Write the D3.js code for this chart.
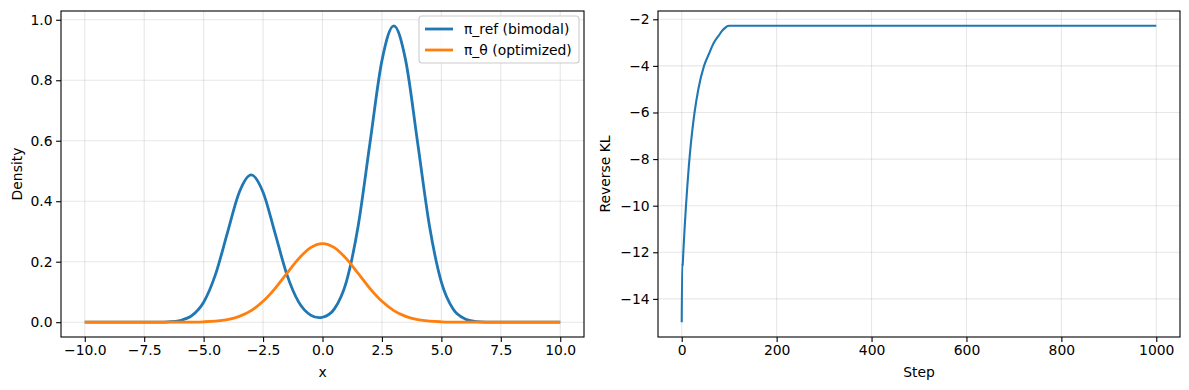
<!DOCTYPE html>
<html>
<head>
  <script src="https://d3js.org/d3.v7.min.js"></script>
  <style>
  html, body {
    margin: 0px;
    background: #fff;
  }
  svg text {
    font-family: "DejaVu Sans", sans-serif;
  }
  .tick text {
    font-size: 13.9px;
    fill: #000;
  }
  </style>
</head>
<body>
  <svg id="chart" width="1189" height="390"></svg>
  <script>

  // left panel: densities
  var xs = [-10, -9.5, -9, -8.5, -8, -7.5, -7, -6.5, -6, -5.5, -5, -4.5, -4, -3.5, -3, -2.5, -2, -1.5, -1, -0.5,
            0, 0.5, 1, 1.5, 2, 2.5, 3, 3.5, 4, 4.5, 5, 5.5, 6, 6.5, 7, 7.5, 8, 8.5, 9, 9.5, 10];
  var piRef = [0, 0, 0, 0, 0, 0, 0.0002, 0.0011, 0.0054, 0.0214, 0.0659, 0.1581, 0.2954, 0.4298, 0.487, 0.4298, 0.2954, 0.1582, 0.0662, 0.0235,
               0.0163, 0.0441, 0.1328, 0.3182, 0.5944, 0.8649, 0.98, 0.8649, 0.5944, 0.3182, 0.1326, 0.043, 0.0109, 0.0021, 0.0003, 0, 0, 0, 0, 0, 0];
  var piTheta = [0, 0, 0, 0, 0, 0, 0, 0, 0.0001, 0.0004, 0.0013, 0.0035, 0.0087, 0.0193, 0.0384, 0.0689, 0.1111, 0.1612, 0.2102, 0.2466,
                 0.26, 0.2466, 0.2102, 0.1612, 0.1111, 0.0689, 0.0384, 0.0193, 0.0087, 0.0035, 0.0013, 0.0004, 0.0001, 0, 0, 0, 0, 0, 0, 0, 0];
  var seriesNames = ["π_ref (bimodal)", "π_θ (optimized)"];
  var xTicksL = [-10, -7.5, -5, -2.5, 0, 2.5, 5, 7.5, 10];
  var yTicksL = [0, 0.2, 0.4, 0.6, 0.8, 1.0];

  // right panel: reverse KL per step
  var steps = [0, 1, 2, 3, 4, 6, 9, 12, 15, 20, 27, 35, 47, 57, 68, 78, 85, 92, 97, 100, 1000];
  var revKL = [-15.0, -12.45, -12.6, -12.15, -11.75, -11.0, -10.0, -9.1, -8.3, -7.2, -6.0, -5.0, -4.0, -3.5, -3.0, -2.7, -2.5, -2.36, -2.29, -2.28, -2.28];
  var xTicksR = [0, 200, 400, 600, 800, 1000];
  var yTicksR = [-14, -12, -10, -8, -6, -4, -2];

  var blue = "#1f77b4", orange = "#ff7f0e";
  var svg = d3.select("#chart");

  function fmtMinus(f) {
    return function(d) { return f(d).replace("-", "\u2212"); };
  }

  function pad(lo, hi) {
    var m = (hi - lo) * 0.05;
    return [lo - m, hi + m];
  }

  function panel(box, xDom, yDom, xt, yt, xf, yf, xlab, ylab, ylabX) {
    var x = d3.scaleLinear().domain(xDom).range([box.l, box.r]);
    var y = d3.scaleLinear().domain(yDom).range([box.b, box.t]);
    var g = svg.append("g");

    // grid
    g.append("g").selectAll("line").data(xt).enter().append("line")
      .attr("x1", function(d) { return x(d); }).attr("x2", function(d) { return x(d); })
      .attr("y1", box.t).attr("y2", box.b)
      .attr("stroke", "#b0b0b0").attr("stroke-opacity", 0.3).attr("stroke-width", 1.1);
    g.append("g").selectAll("line").data(yt).enter().append("line")
      .attr("y1", function(d) { return y(d); }).attr("y2", function(d) { return y(d); })
      .attr("x1", box.l).attr("x2", box.r)
      .attr("stroke", "#b0b0b0").attr("stroke-opacity", 0.3).attr("stroke-width", 1.1);

    var ax = g.append("g").attr("transform", "translate(0," + box.b + ")")
      .call(d3.axisBottom(x).tickValues(xt).tickFormat(xf).tickSize(4.9).tickSizeOuter(0).tickPadding(3.5));
    var ay = g.append("g").attr("transform", "translate(" + box.l + ",0)")
      .call(d3.axisLeft(y).tickValues(yt).tickFormat(yf).tickSize(4.9).tickSizeOuter(0).tickPadding(3.5));
    [ax, ay].forEach(function(a) {
      a.select(".domain").remove();
      a.selectAll(".tick line").attr("stroke", "#000").attr("stroke-width", 1.1);
    });

    g.append("text").attr("x", (box.l + box.r) / 2).attr("y", 377)
      .attr("text-anchor", "middle").style("font-size", "13.9px").text(xlab);
    g.append("text").attr("transform", "translate(" + ylabX + "," + (box.t + box.b) / 2 + ") rotate(-90)")
      .attr("text-anchor", "middle").style("font-size", "13.9px").text(ylab);

    return { x: x, y: y, g: g };
  }

  function frame(p, box) {
    p.g.append("rect").attr("x", box.l).attr("y", box.t)
      .attr("width", box.r - box.l).attr("height", box.b - box.t)
      .attr("fill", "none").attr("stroke", "#000").attr("stroke-width", 1.1);
  }

  // left
  var boxL = { l: 61, r: 584, t: 11, b: 337 };
  var L = panel(boxL, pad(-10, 10), pad(0, 0.98), xTicksL, yTicksL,
    fmtMinus(d3.format(".1f")), fmtMinus(d3.format(".1f")), "x", "Density", 22);

  var lineL = function(vals) {
    return d3.line()
      .x(function(d, i) { return L.x(xs[i]); })
      .y(function(d) { return L.y(d); })
      .curve(d3.curveCatmullRom.alpha(0))(vals);
  };
  [[piRef, blue], [piTheta, orange]].forEach(function(s) {
    L.g.append("path").attr("d", lineL(s[0])).attr("fill", "none")
      .attr("stroke", s[1]).attr("stroke-width", 2.8).attr("stroke-linejoin", "round");
  });
  frame(L, boxL);

  // legend
  var lg = L.g.append("g");
  lg.append("rect").attr("x", 419).attr("y", 16).attr("width", 160).attr("height", 47)
    .attr("rx", 3).attr("fill", "#fff").attr("fill-opacity", 0.8)
    .attr("stroke", "#cccccc").attr("stroke-width", 1.1);
  [blue, orange].forEach(function(c, i) {
    var yy = 29 + i * 21;
    lg.append("line").attr("x1", 425).attr("x2", 453).attr("y1", yy).attr("y2", yy)
      .attr("stroke", c).attr("stroke-width", 2.8);
    lg.append("text").attr("x", 464).attr("y", yy + 5).style("font-size", "13.9px").text(seriesNames[i]);
  });

  // right
  var boxR = { l: 658, r: 1180, t: 11, b: 337 };
  var R = panel(boxR, pad(0, 1000), pad(d3.min(revKL), d3.max(revKL)), xTicksR, yTicksR,
    d3.format("d"), fmtMinus(d3.format("d")), "Step", "Reverse KL", 610);

  var lineR = d3.line()
    .x(function(d, i) { return R.x(steps[i]); })
    .y(function(d) { return R.y(d); })
    .curve(d3.curveMonotoneX);
  R.g.append("path").attr("d", lineR(revKL)).attr("fill", "none")
    .attr("stroke", blue).attr("stroke-width", 2.1).attr("stroke-linejoin", "round");
  frame(R, boxR);

  </script>
</body>
</html>
